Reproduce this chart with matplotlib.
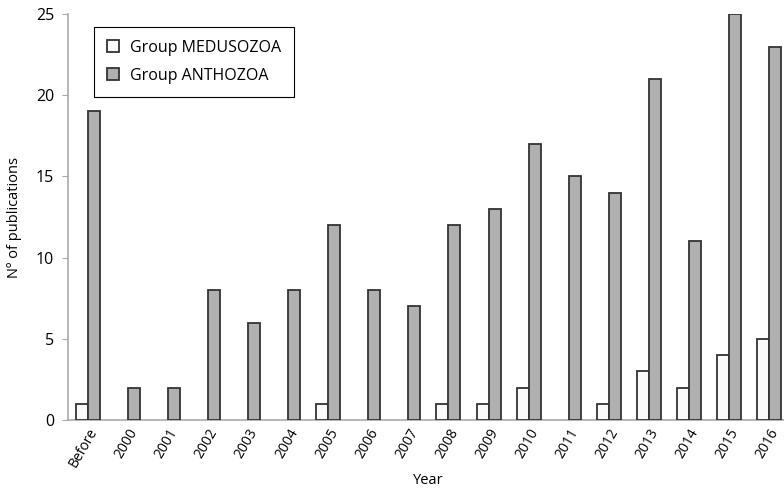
import numpy as np
import matplotlib
matplotlib.use('Agg')
import matplotlib.pyplot as plt

years = ['Before', '2000', '2001', '2002', '2003', '2004', '2005', '2006', '2007',
         '2008', '2009', '2010', '2011', '2012', '2013', '2014', '2015', '2016']
medusozoa = [1, 0, 0, 0, 0, 0, 1, 0, 0, 1, 1, 2, 0, 1, 3, 2, 4, 5]
anthozoa = [19, 2, 2, 8, 6, 8, 12, 8, 7, 12, 13, 17, 15, 14, 21, 11, 25, 23]

plt.rcParams['font.family'] = ['Open Sans', 'DejaVu Sans']

fig = plt.figure(figsize=(7.84, 4.92), dpi=100)
ax = fig.add_axes([0.0867, 0.1463, 0.9196, 0.8252])

x = np.arange(len(years))
w = 0.3
b1 = ax.bar(x - w / 2, medusozoa, w, color='#fafafa', edgecolor='#333333', linewidth=1.3,
            label='Group MEDUSOZOA', zorder=3)
b2 = ax.bar(x + w / 2, anthozoa, w, color='#b0b0b0', edgecolor='#333333', linewidth=1.3,
            label='Group ANTHOZOA', zorder=3)
# empty years show no bar at all
for p in list(b1) + list(b2):
    if p.get_height() == 0:
        p.set_visible(False)

ax.set_xlim(-0.5, 17.5)
ax.set_ylim(0, 25)
ax.set_yticks([0, 5, 10, 15, 20, 25])
ax.set_xticks(x)
ax.set_xticklabels(years, rotation=60, ha='right', rotation_mode='anchor')
ax.tick_params(axis='x', length=0, pad=4, labelsize=10)
ax.tick_params(axis='y', length=4, color='#aaaaaa', labelsize=11.5, pad=6)

for s in ['top', 'right']:
    ax.spines[s].set_visible(False)
for s in ['left', 'bottom']:
    ax.spines[s].set_color('#aaaaaa')
    ax.spines[s].set_linewidth(1.2)

ax.set_ylabel('Nº of publications', fontsize=10.5, labelpad=10)
ax.set_xlabel('Year', fontsize=10.5, labelpad=2)

leg = ax.legend(loc='upper left', bbox_to_anchor=(0.036, 0.968), fancybox=False,
                edgecolor='black', framealpha=1, fontsize=11.5, handlelength=0.75,
                handleheight=0.75, handletextpad=0.7, borderpad=0.8, labelspacing=0.75,
                borderaxespad=0)
leg.get_frame().set_linewidth(0.8)

fig.savefig('out.png', dpi=100)
